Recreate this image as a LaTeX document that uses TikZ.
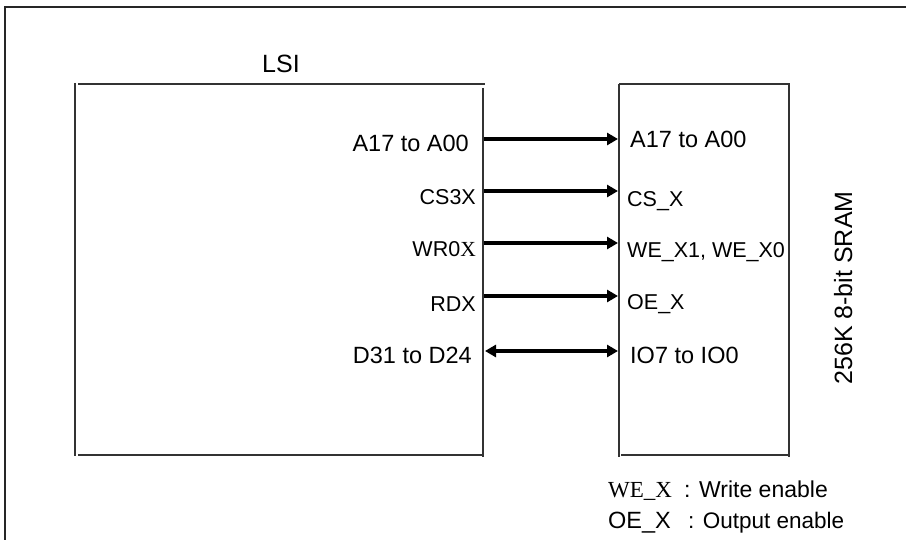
\documentclass[tikz,border=0pt]{standalone}
\usepackage{fontspec}
\setmainfont{Liberation Sans}
\newfontfamily\serifx{Liberation Serif}
\usetikzlibrary{arrows.meta}
\tikzset{
  boxline/.style={line width=1.2pt, draw=black!80},
  sig/.style={line width=3.4pt, -{Triangle[length=11pt,width=12pt]}},
  bisig/.style={line width=3.4pt, {Triangle[length=11pt,width=12pt]}-{Triangle[length=11pt,width=12pt]}},
  big/.style={font=\fontsize{23.5}{26}\selectfont, inner sep=0pt},
  small/.style={font=\fontsize{21.5}{24}\selectfont, inner sep=0pt},
  leg/.style={font=\fontsize{23}{26}\selectfont, inner sep=0pt},
}
\begin{document}
\begin{tikzpicture}[x=1pt,y=-1pt]
\useasboundingbox (0,0) rectangle (906,540);
% outer frame
\draw[line width=1.4pt, draw=black!85] (5,541) -- (5,7) -- (907,7);
% LSI box
\draw[boxline] (75,83) -- (75,456);
\draw[boxline] (78,84) -- (485,84);
\draw[boxline] (483,88) -- (483,457);
\draw[boxline] (78,455) -- (484,455);
% SRAM box
\draw[boxline] (619,84) -- (619,457);
\draw[boxline] (619,84) -- (790,84);
\draw[boxline] (789,84) -- (789,457);
\draw[boxline] (621,455) -- (790,455);
% titles
\node[font=\fontsize{25}{28}\selectfont, inner sep=0pt, anchor=base] (lsi) at (281,73) {LSI};
\node[font=\fontsize{25}{28}\selectfont, inner sep=0pt, anchor=base, rotate=90] (sram) at (852,288) {256K 8-bit SRAM};
% left labels
\node[big, anchor=base east] (la) at (469,152) {A17 to A00};
\node[small, anchor=base east] (lcs) at (476,205) {CS3X};
\node[small, anchor=base east] (lwr) at (476,257) {WR0{\serifx X}};
\node[small, anchor=base east] (lrd) at (476,312) {RDX};
\node[big, anchor=base east] (ld) at (472,363) {D31 to D24};
% right labels
\node[big, anchor=base west] (ra) at (630,148) {A17 to A00};
\node[small, anchor=base west] (rcs) at (627,207) {CS\_X};
\node[small, anchor=base west] (rwe) at (627,258) {WE\_X1, WE\_X0};
\node[small, anchor=base west] (roe) at (627,310) {OE\_X};
\node[big, anchor=base west] (rio) at (630,363) {IO7 to IO0};
% arrow end points
\coordinate (a1) at (484,139); \coordinate (b1) at (618,139);
\coordinate (a2) at (484,191); \coordinate (b2) at (618,191);
\coordinate (a3) at (484,243); \coordinate (b3) at (618,243);
\coordinate (a4) at (484,296); \coordinate (b4) at (618,296);
\coordinate (a5) at (485,351); \coordinate (b5) at (618,351);
\draw[sig] (a1) -- (b1);
\draw[sig] (a2) -- (b2);
\draw[sig] (a3) -- (b3);
\draw[sig] (a4) -- (b4);
\draw[bisig] (a5) -- (b5);
% legend
\node[inner sep=0pt, anchor=base west, font=\fontsize{23}{26}\selectfont\serifx] (lwe) at (608,497) {WE\_X};
\node[leg, anchor=base west] (lwet) at (684,497) {: Write enable};
\node[inner sep=0pt, anchor=base west, font=\fontsize{23.5}{26}\selectfont] (loe) at (608,528) {OE\_X};
\node[inner sep=0pt, anchor=base west, font=\fontsize{22.5}{25}\selectfont] (loet) at (688,528) {: Output enable};
\end{tikzpicture}
\end{document}
